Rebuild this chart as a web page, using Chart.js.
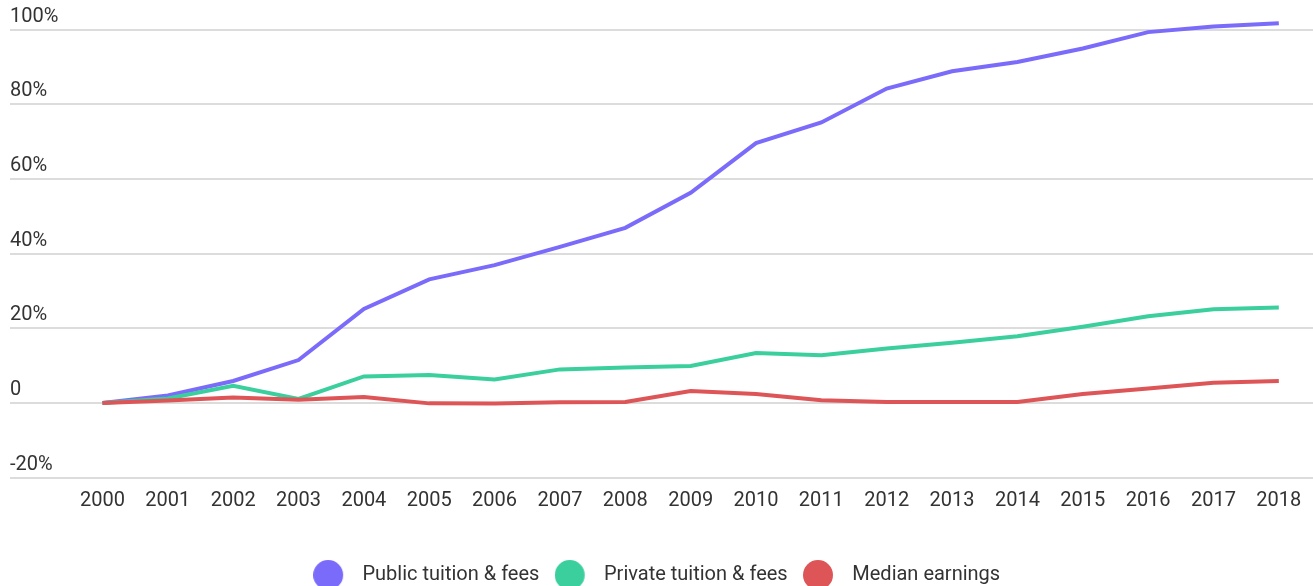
<!DOCTYPE html>
<html>
<head>
<meta charset="utf-8">
<script src="https://cdn.jsdelivr.net/npm/chart.js@4.4.1/dist/chart.umd.min.js"></script>
<style>
  html, body { margin: 0; padding: 0; background: #fff; overflow: hidden; }
  #wrap { position: relative; width: 1313px; height: 595px; }
</style>
</head>
<body>
<div id="wrap"><canvas id="chart"></canvas></div>
<script>
// Tuition vs earnings growth since 2000, cumulative % change.

var years = [2000, 2001, 2002, 2003, 2004, 2005, 2006, 2007, 2008, 2009,
             2010, 2011, 2012, 2013, 2014, 2015, 2016, 2017, 2018];

var publicFees     = [0, 2.0, 5.9, 11.5, 25.2, 33.1, 36.9, 41.8, 46.9, 56.3,
                      69.6, 75.1, 84.2, 88.8, 91.3, 94.9, 99.3, 100.8, 101.7];
var privateFees    = [0, 1.2, 4.6, 1.1, 7.1, 7.5, 6.3, 9.0, 9.5, 9.9,
                      13.4, 12.8, 14.6, 16.1, 17.9, 20.4, 23.2, 25.1, 25.6];
var medianEarnings = [0, 0.7, 1.5, 0.85, 1.6, -0.1, -0.15, 0.2, 0.3, 3.2,
                      2.4, 0.75, 0.3, 0.3, 0.3, 2.4, 3.9, 5.4, 5.9];

var seriesNames  = ["Public tuition & fees", "Private tuition & fees", "Median earnings"];
var seriesColors = ["#7b6bfa", "#3bcf9e", "#dd5557"];
var yTicks       = [-20, 0, 20, 40, 60, 80, 100];

var TEXT = "#333333";
var GRID = "#dcdcdc";

Chart.defaults.font.family = "Roboto, 'Noto Sans', sans-serif";
Chart.defaults.font.size = 20;
Chart.defaults.color = TEXT;

// legend dot: circle sits left of the box centre so the gap to the text is wider
function makeDot(color) {
  var c = document.createElement("canvas");
  c.width = 49;
  c.height = 30;
  var ctx = c.getContext("2d");
  ctx.fillStyle = color;
  ctx.beginPath();
  ctx.arc(15, 15, 15, 0, Math.PI * 2);
  ctx.fill();
  return c;
}

function toPoints(values) {
  return values.map(function(v, i) { return { x: years[i], y: v }; });
}

function makeSet(idx, values, order) {
  return {
    label:       seriesNames[idx],
    data:        toPoints(values),
    borderColor: seriesColors[idx],
    backgroundColor: seriesColors[idx],
    borderWidth: 4,
    pointRadius: 0,
    pointHoverRadius: 0,
    pointStyle:  makeDot(seriesColors[idx]),
    tension:     0,
    clip:        false,
    order:       order,
  };
}

new Chart(document.getElementById("chart"), {
  type: "line",
  data: {
    datasets: [
      makeSet(0, publicFees, 3),
      makeSet(1, privateFees, 2),
      makeSet(2, medianEarnings, 1),
    ],
  },
  options: {
    responsive:          true,
    maintainAspectRatio: false,
    animation:           false,
    layout: { padding: { top: 29.5, left: 10, right: 0, bottom: 0 } },
    plugins: {
      tooltip: { enabled: false },
      legend: {
        position: "bottom",
        labels: {
          usePointStyle:   true,
          pointStyleWidth: 29.6,
          boxHeight:       20,
          padding:         25,
          color:           TEXT,
          font:            { size: 20 },
          sort: function(a, b) { return a.datasetIndex - b.datasetIndex; },
        },
      },
    },
    scales: {
      x: {
        type: "linear",
        min:  1998.585,
        max:  2018.523,
        grid:   { display: false, drawTicks: false },
        border: { display: false },
        afterBuildTicks: function(axis) {
          axis.ticks = years.map(function(y) { return { value: y }; });
        },
        afterFit: function(axis) { axis.height = 62.3; },
        ticks: {
          padding: 11,
          color:   TEXT,
          font:    { size: 20 },
          maxRotation: 0,
          autoSkip: false,
          callback: function(v) { return String(v); },
        },
      },
      y: {
        min: -20,
        max: 100,
        grid:   { color: GRID, lineWidth: 2, drawTicks: false },
        border: { display: false },
        afterBuildTicks: function(axis) {
          axis.ticks = yTicks.map(function(v) { return { value: v }; });
        },
        ticks: {
          mirror:      true,
          padding:     0,
          labelOffset: -13,
          color:       TEXT,
          font:        { size: 20 },
          callback: function(v) { return v === 0 ? "0" : v + "%"; },
        },
      },
    },
  },
});
</script>
</body>
</html>
